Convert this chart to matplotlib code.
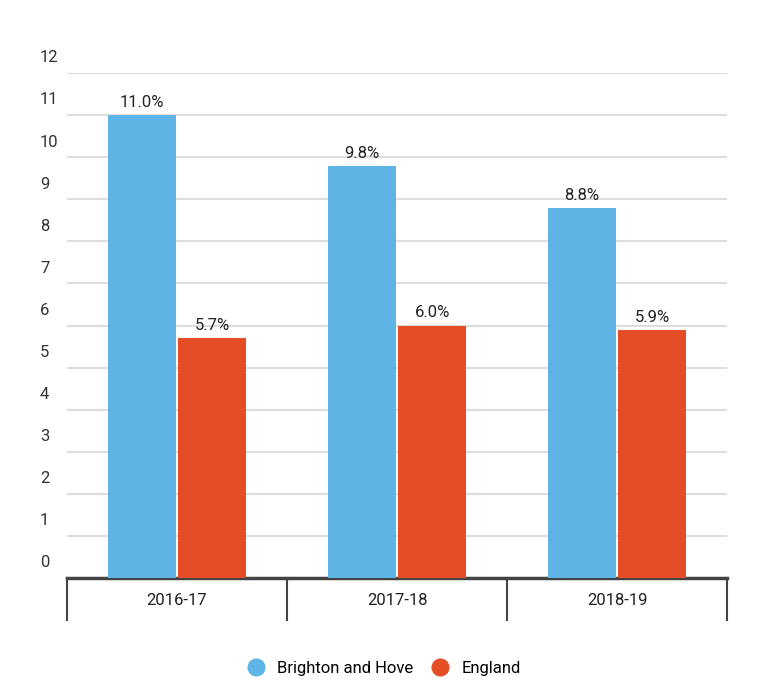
import matplotlib
matplotlib.use("Agg")
import matplotlib.pyplot as plt
from matplotlib.transforms import blended_transform_factory
from matplotlib.lines import Line2D
import numpy as np

categories = ["2016-17", "2017-18", "2018-19"]
brighton = [11.0, 9.8, 8.8]
england = [5.7, 6.0, 5.9]
series_names = ["Brighton and Hove", "England"]
yticks = list(range(0, 13))

blue = "#5DB4E5"
red = "#E44D26"
plt.rcParams['font.family'] = ['Roboto', 'DejaVu Sans']

fig = plt.figure(figsize=(7.74, 6.98), dpi=100)
ax = fig.add_axes([67/774, 1-578/698, 660/774, 505/698])
x = np.arange(len(categories))
w = 0.31
b1 = ax.bar(x - w/2 - 0.005, brighton, w, color=blue, zorder=3)
b2 = ax.bar(x + w/2 + 0.005, england, w, color=red, zorder=3)
for bars, vals in ((b1, brighton), (b2, england)):
    for r, v in zip(bars, vals):
        ax.text(r.get_x() + r.get_width()/2, v + 0.12, f"{v:.1f}%", ha='center', va='bottom',
                fontsize=12, color="#222222")
ax.set_xlim(-0.5, 2.5)
ax.set_ylim(0, 12)
ax.set_yticks(yticks)
ax.set_yticklabels([])
ax.tick_params(left=False, bottom=False, labelbottom=False)
ax.grid(axis='y', color='#dddddd', linewidth=1.5, zorder=0)
for s in ['top', 'right', 'left']:
    ax.spines[s].set_visible(False)
ax.spines['bottom'].set_color('#444444')
ax.spines['bottom'].set_linewidth(2.5)
tr = blended_transform_factory(ax.transAxes, ax.transData)
for t in yticks:
    ax.text(-0.041, t + 0.36, str(t), transform=tr, ha='left', va='center', fontsize=12, color='#333333')
trx = blended_transform_factory(ax.transData, ax.transAxes)
for xs in [-0.5, 0.5, 1.5, 2.5]:
    ax.plot([xs, xs], [0, -0.083], transform=trx, color='#444444', lw=1.5, clip_on=False)
for i, c in enumerate(categories):
    ax.text(i, -0.045, c, transform=trx, ha='center', va='center', fontsize=12, color='#222222')
handles = [Line2D([], [], marker='o', linestyle='', color=blue, markersize=12),
           Line2D([], [], marker='o', linestyle='', color=red, markersize=12)]
fig.legend(handles, series_names, loc='center', bbox_to_anchor=(380/774, 1-668/698), ncol=2,
           frameon=False, fontsize=12, handletextpad=0.3, columnspacing=0.6)
fig.savefig("out.png", dpi=100)
